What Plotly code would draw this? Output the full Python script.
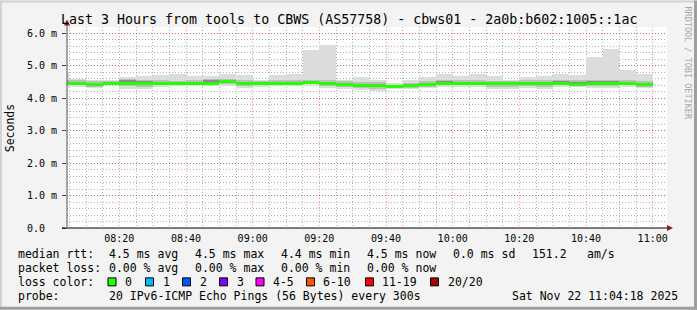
import pandas as pd
import plotly.graph_objects as go

# ---------------- data ----------------
bin_starts = ["2025-11-22 08:04:18"] + [str(t) for t in pd.date_range("2025-11-22 08:05", "2025-11-22 10:55", freq="5min")]
bin_ends = [str(t) for t in pd.date_range("2025-11-22 08:05", "2025-11-22 11:00", freq="5min")]

median = [4.47, 4.47, 4.43, 4.47, 4.47, 4.47, 4.47, 4.47, 4.47, 4.47, 4.53, 4.47, 4.47, 4.47, 4.47, 4.48, 4.47, 4.42,
          4.40, 4.40, 4.37, 4.40, 4.44, 4.47, 4.47, 4.46, 4.47, 4.47, 4.46, 4.46, 4.47, 4.43, 4.47, 4.47, 4.47, 4.43]
ping_max = [4.80, 4.60, 4.57, 4.55, 4.66, 4.69, 4.72, 4.75, 4.68, 4.68, 4.75, 4.72, 4.57, 4.72, 4.75, 5.48, 5.63, 4.58,
            4.66, 4.58, 4.48, 4.55, 4.65, 4.75, 4.68, 4.75, 4.68, 4.58, 4.65, 4.68, 4.75, 4.72, 5.27, 5.51, 4.86, 4.75]
ping_min = [4.35, 4.35, 4.32, 4.40, 4.30, 4.28, 4.35, 4.39, 4.40, 4.38, 4.39, 4.31, 4.35, 4.39, 4.39, 4.40, 4.31, 4.28,
            4.25, 4.23, 4.29, 4.29, 4.31, 4.35, 4.35, 4.35, 4.28, 4.28, 4.31, 4.28, 4.35, 4.35, 4.31, 4.31, 4.35, 4.32]
mid_hi = [4.58, 4.55, 4.52, 4.53, 4.60, 4.57, 4.55, 4.54, 4.56, 4.60, 4.60, 4.55, 4.53, 4.56, 4.55, 4.57, 4.55, 4.52,
          4.50, 4.49, 4.42, 4.47, 4.53, 4.58, 4.55, 4.57, 4.54, 4.53, 4.55, 4.56, 4.58, 4.55, 4.57, 4.58, 4.56, 4.53]
mid_lo = [4.40, 4.40, 4.36, 4.43, 4.38, 4.36, 4.41, 4.42, 4.43, 4.42, 4.45, 4.38, 4.40, 4.42, 4.42, 4.43, 4.39, 4.34,
          4.31, 4.30, 4.33, 4.33, 4.36, 4.40, 4.41, 4.40, 4.36, 4.36, 4.38, 4.36, 4.41, 4.38, 4.38, 4.38, 4.40, 4.36]
dark_hi = [4.52, 4.51, 4.47, 4.50, 4.56, 4.52, 4.51, 4.50, 4.51, 4.55, 4.56, 4.50, 4.50, 4.51, 4.51, 4.52, 4.51, 4.47,
           4.45, 4.45, 4.40, 4.44, 4.48, 4.52, 4.51, 4.51, 4.50, 4.50, 4.50, 4.51, 4.52, 4.49, 4.52, 4.53, 4.51, 4.48]
dark_lo = [4.44, 4.44, 4.40, 4.45, 4.43, 4.42, 4.44, 4.44, 4.45, 4.44, 4.48, 4.43, 4.44, 4.45, 4.44, 4.45, 4.43, 4.38,
           4.35, 4.35, 4.34, 4.36, 4.40, 4.44, 4.44, 4.43, 4.42, 4.42, 4.42, 4.41, 4.44, 4.41, 4.42, 4.43, 4.44, 4.40]

y_tick_vals = [0, 1, 2, 3, 4, 5, 6]
y_tick_text = ["0.0\u00a0\u00a0", "1.0 m", "2.0 m", "3.0 m", "4.0 m", "5.0 m", "6.0 m"]

loss_labels = ["0", "1", "2", "3", "4-5", "6-10", "11-19", "20/20"]
loss_colors = ["#26ff00", "#00b8ff", "#0059ff", "#7e00ff", "#ff00ff", "#ff5500", "#ff0000", "#a00000"]

title_text = "Last 3 Hours from tools to CBWS (AS57758) - cbws01 - 2a0b:b602:1005::1ac"
x_start, x_end = "2025-11-22 08:04:18", "2025-11-22 11:04:18"

# ---------------- geometry helpers ----------------
W, H = 697, 310
PL, PR, PT, PB = 67, 667, 26.5, 228
YMAX = 6.2
def px(x):
    return (x - PL) / (PR - PL)
def py(y):
    return (PB - y) / (PB - PT)

starts = pd.to_datetime(bin_starts)
ends = pd.to_datetime(bin_ends)
centers = starts + (ends - starts) / 2
widths = [(e - s).total_seconds() * 1000 for s, e in zip(starts, ends)]

fig = go.Figure()

def band(lo, hi, color):
    fig.add_trace(go.Bar(x=centers, base=lo, y=[h - l for h, l in zip(hi, lo)], width=widths,
                         marker=dict(color=color, line=dict(width=0)), hoverinfo="skip", showlegend=False))

band(ping_min, ping_max, "#dcdcdc")
band(mid_lo, mid_hi, "#bdbdbd")
band(dark_lo, dark_hi, "#8c8c8c")
half = 0.045
band([m - half for m in median], [m + half for m in median], loss_colors[0])

mono = "DejaVu Sans Mono"
fig.update_layout(
    width=W, height=H,
    margin=dict(l=PL, r=W - PR, t=PT, b=H - PB, pad=0),
    paper_bgcolor="#f3f3f3", plot_bgcolor="#ffffff",
    barmode="overlay", bargap=0, showlegend=False,
    font=dict(family=mono, size=10, color="#000000"),
)
fig.update_xaxes(
    type="date", range=[x_start, x_end],
    tickmode="linear", tick0="2025-11-22 08:00", dtick=20 * 60 * 1000,
    tickformat="%H:%M", tickfont=dict(family=mono, size=10, color="#000"),
    showgrid=True, gridcolor="rgba(255,0,0,0.38)", griddash="1px,2px", gridwidth=1,
    minor=dict(dtick=5 * 60 * 1000, tick0="2025-11-22 08:00", showgrid=True,
               gridcolor="rgba(130,130,130,0.6)", griddash="1px,2px", gridwidth=1),
    showline=False, zeroline=False, ticks="", ticklabelstandoff=3,
)
fig.update_yaxes(
    range=[0, YMAX], tickmode="array", tickvals=y_tick_vals, ticktext=y_tick_text,
    tickfont=dict(family=mono, size=10, color="#000"),
    showgrid=True, gridcolor="rgba(255,0,0,0.38)", griddash="1px,2px", gridwidth=1,
    minor=dict(dtick=0.2, showgrid=True, gridcolor="rgba(130,130,130,0.6)", griddash="1px,2px", gridwidth=1),
    showline=False, zeroline=False, ticks="outside", ticklen=4, tickcolor="#444", ticklabelstandoff=3,
)

shapes = []
# axes lines
shapes.append(dict(type="line", xref="paper", yref="paper", x0=px(62), x1=px(668), y0=py(228), y1=py(228),
                   line=dict(color="#000", width=1)))
shapes.append(dict(type="line", xref="paper", yref="paper", x0=px(67), x1=px(67), y0=py(228), y1=py(24),
                   line=dict(color="#555", width=1)))
# arrowheads
shapes.append(dict(type="path", xref="paper", yref="paper",
                   path=f"M {px(667)},{py(225)} L {px(673)},{py(228)} L {px(667)},{py(231)} Z",
                   fillcolor="#8b1a1a", line=dict(width=0)))
shapes.append(dict(type="path", xref="paper", yref="paper",
                   path=f"M {px(64)},{py(25)} L {px(67)},{py(19)} L {px(70)},{py(25)} Z",
                   fillcolor="#8b1a1a", line=dict(width=0)))
# frame
shapes.append(dict(type="rect", xref="paper", yref="paper", x0=px(0), x1=px(697), y0=py(0), y1=py(2),
                   fillcolor="#d2d2d2", line=dict(width=0), layer="below"))
shapes.append(dict(type="rect", xref="paper", yref="paper", x0=px(0), x1=px(2), y0=py(0), y1=py(310),
                   fillcolor="#d2d2d2", line=dict(width=0), layer="below"))
shapes.append(dict(type="rect", xref="paper", yref="paper", x0=px(694), x1=px(697), y0=py(0), y1=py(310),
                   fillcolor="#9f9f9f", line=dict(width=0), layer="below"))
shapes.append(dict(type="rect", xref="paper", yref="paper", x0=px(0), x1=px(697), y0=py(307), y1=py(310),
                   fillcolor="#9f9f9f", line=dict(width=0), layer="below"))

ann = []
def text(x, y, s, size=11.5, anchor="left", color="#000", angle=0):
    ann.append(dict(xref="paper", yref="paper", x=px(x), y=py(y), text=s.replace(" ", "\u00a0"),
                    showarrow=False, xanchor=anchor, yanchor="middle", textangle=angle,
                    font=dict(family=mono, size=size, color=color)))

text(348.5, 19, title_text, size=13.3, anchor="center")
text(10, 128, "Seconds", size=11.5, anchor="center", angle=-90)
text(688, 62, "RRDTOOL / TOBI OETIKER", size=8.5, anchor="center", color="#a8a8a8", angle=90)

L1, L2, L3, L4 = 254, 268, 282, 296
text(16, L1, "median rtt:")
for x, s in [(107, "4.5 ms avg"), (193, "4.5 ms max"), (279, "4.4 ms min"), (365, "4.5 ms now"),
             (451, "0.0 ms sd"), (530, "151.2"), (585, "am/s")]:
    text(x, L1, s)
text(16, L2, "packet loss:")
for x, s in [(107, "0.00 % avg"), (193, "0.00 % max"), (279, "0.00 % min"), (365, "0.00 % now")]:
    text(x, L2, s)
text(16, L3, "loss color:")
box_x = [108, 145.5, 182.5, 219.5, 256, 306.5, 365.5, 430.5]
lab_x = [123, 160.5, 198, 234.7, 271.3, 321.3, 380, 446]
for bx, lx, lab, col in zip(box_x, lab_x, loss_labels, loss_colors):
    shapes.append(dict(type="rect", xref="paper", yref="paper", x0=px(bx), x1=px(bx + 8),
                       y0=py(L3 - 4), y1=py(L3 + 4), fillcolor=col, line=dict(color="#000", width=1)))
    text(lx, L3, lab)
text(16, L4, "probe:")
text(107, L4, "20 IPv6-ICMP Echo Pings (56 Bytes) every 300s")
text(680, L4, "Sat Nov 22 11:04:18 2025", anchor="right")

fig.update_layout(shapes=shapes, annotations=ann)
fig.write_html("out.html")
